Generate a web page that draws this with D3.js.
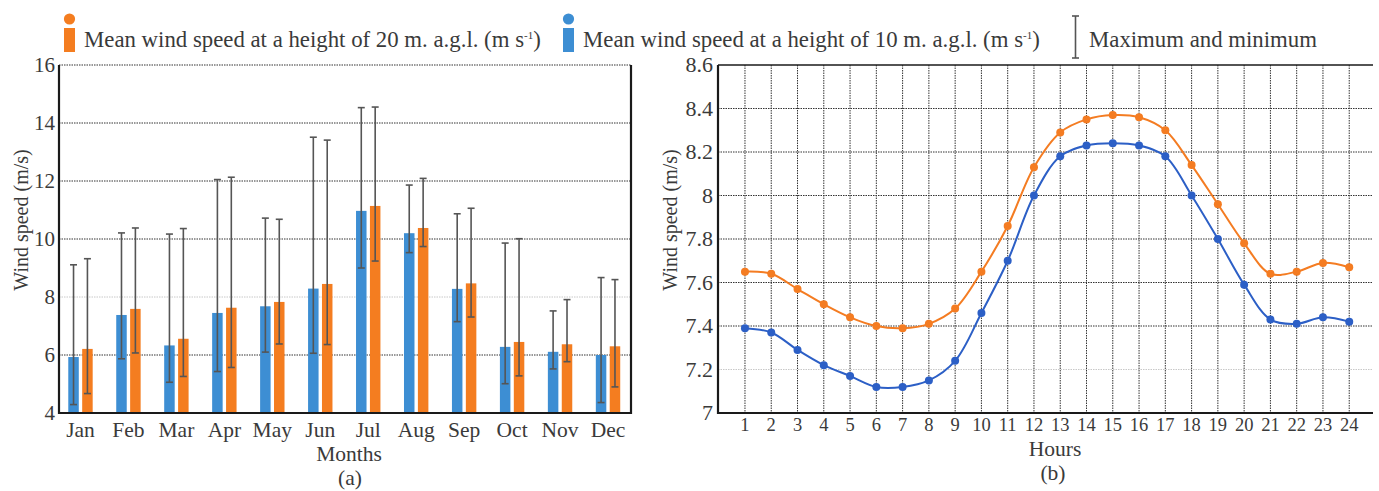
<!DOCTYPE html>
<html>
<head>
<meta charset="utf-8">
<script src="https://cdn.jsdelivr.net/npm/d3@7"></script>
<style>
  html, body { margin: 0; padding: 0; background: #fff; }
  svg { display: block; }
  svg text { font-family: "Liberation Serif", "DejaVu Serif", serif; fill: #3a3a3a; }
</style>
</head>
<body>
<svg id="chart" width="1379" height="491"></svg>
<script>
// Monthly mean wind speed (m/s) with monthly max/min, at 10 m and 20 m
const months = ["Jan", "Feb", "Mar", "Apr", "May", "Jun", "Jul", "Aug", "Sep", "Oct", "Nov", "Dec"];
const mean10 = [5.93, 7.38, 6.33, 7.45, 7.68, 8.29, 10.97, 10.20, 8.28, 6.28, 6.11, 6.00];
const mean20 = [6.21, 7.59, 6.56, 7.63, 7.83, 8.45, 11.14, 10.38, 8.47, 6.45, 6.37, 6.30];
const max10 = [9.11, 10.21, 10.17, 12.05, 10.72, 13.51, 14.53, 11.86, 10.87, 9.86, 7.52, 8.67];
const min10 = [4.29, 5.87, 5.06, 5.43, 6.10, 6.06, 9.00, 9.53, 7.15, 5.01, 5.52, 4.36];
const max20 = [9.32, 10.38, 10.36, 12.13, 10.68, 13.41, 14.55, 12.09, 11.06, 10.01, 7.91, 8.60];
const min20 = [4.67, 6.07, 5.26, 5.57, 6.38, 6.36, 9.24, 9.74, 7.31, 5.28, 5.77, 4.90];
const monthTicks = [4, 6, 8, 10, 12, 14, 16];

// Mean hourly wind speed (m/s)
const hours = d3.range(1, 25);
const hourly20 = [7.65, 7.64, 7.57, 7.50, 7.44, 7.40, 7.39, 7.41, 7.48, 7.65, 7.86, 8.13,
                  8.29, 8.35, 8.37, 8.36, 8.30, 8.14, 7.96, 7.78, 7.64, 7.65, 7.69, 7.67];
const hourly10 = [7.39, 7.37, 7.29, 7.22, 7.17, 7.12, 7.12, 7.15, 7.24, 7.46, 7.70, 8.00,
                  8.18, 8.23, 8.24, 8.23, 8.18, 8.00, 7.80, 7.59, 7.43, 7.41, 7.44, 7.42];
const hourTicks = [7, 7.2, 7.4, 7.6, 7.8, 8, 8.2, 8.4, 8.6];

const seriesNames = ["10 m", "20 m"];
const legendLabels = ["Mean wind speed at a height of 20 m. a.g.l. (m s", "Mean wind speed at a height of 10 m. a.g.l. (m s"];

const SERIF = '"Liberation Serif", "DejaVu Serif", serif';
const C_BAR10 = "#3d8ed3", C_BAR20 = "#f47d20";
const C_LINE10 = "#2c5fc6", C_LINE20 = "#f47c22";
const C_ERR = "#555", C_AXIS = "#1a1a1a", C_GRID = "#333", C_GRID_LIGHT = "#c8c8c8";

const svg = d3.select("#chart").attr("font-family", SERIF);

function label(g, x, y, size, txt, anchor) {
  return g.append("text").attr("x", x).attr("y", y)
    .attr("text-anchor", anchor || "start")
    .style("font-family", SERIF).style("font-size", size + "px").text(txt);
}

// ---------- Legend ----------
const legend = svg.append("g");
function legendMarker(x, color, txt) {
  legend.append("rect").attr("x", x).attr("y", 28).attr("width", 11).attr("height", 24).attr("fill", color);
  legend.append("circle").attr("cx", x + 5.5).attr("cy", 19).attr("r", 5.6).attr("fill", color);
  const t = label(legend, x + 20, 47, 22.8, txt);
  t.append("tspan").attr("dy", -8).style("font-size", "11px").text("-1");
  t.append("tspan").attr("dy", 8).text(")");
}
legendMarker(64, C_BAR20, legendLabels[0]);
legendMarker(563, C_BAR10, legendLabels[1]);
legend.append("line").attr("x1", 1075.5).attr("x2", 1075.5).attr("y1", 16).attr("y2", 58).attr("stroke", C_ERR).attr("stroke-width", 1.6);
legend.append("line").attr("x1", 1072).attr("x2", 1079).attr("y1", 16).attr("y2", 16).attr("stroke", C_ERR).attr("stroke-width", 1.6);
legend.append("line").attr("x1", 1072).attr("x2", 1079).attr("y1", 58).attr("y2", 58).attr("stroke", C_ERR).attr("stroke-width", 1.6);
label(legend, 1089, 47, 22.8, "Maximum and minimum");

// ---------- (a) Monthly bar chart ----------
const A = { left: 59, right: 631, top: 65, bottom: 413 };
const ya = d3.scaleLinear().domain([4, 16]).range([A.bottom, A.top]);
const xa = d3.scaleBand().domain(months).range([56.5, 632]);
const xs = d3.scaleBand().domain(seriesNames).range([-12.2, 12.2]).paddingInner(0.245);

const ga = svg.append("g");
// horizontal grid
ga.selectAll(".grid").data(monthTicks.filter(v => v > 4)).join("line")
  .attr("x1", A.left).attr("x2", A.right)
  .attr("y1", d => ya(d)).attr("y2", d => ya(d))
  .attr("stroke", d => d === 8 ? C_GRID_LIGHT : C_GRID)
  .attr("stroke-width", 1).attr("stroke-dasharray", "1.5,1");

// y tick labels
monthTicks.forEach(v => {
  label(ga, 55, ya(v) + 7, 21, v, "end");
});

const barData = months.map((m, i) => [
  { m, s: "10 m", v: mean10[i], hi: max10[i], lo: min10[i], c: C_BAR10 },
  { m, s: "20 m", v: mean20[i], hi: max20[i], lo: min20[i], c: C_BAR20 }
]).flat();

ga.selectAll(".bar").data(barData).join("rect")
  .attr("x", d => xa(d.m) + xa.bandwidth() / 2 + xs(d.s))
  .attr("width", xs.bandwidth())
  .attr("y", d => ya(d.v))
  .attr("height", d => ya(4) - ya(d.v))
  .attr("fill", d => d.c);

// error bars
const errG = ga.selectAll(".err").data(barData).join("g")
  .attr("transform", d => `translate(${xa(d.m) + xa.bandwidth() / 2 + xs(d.s) + xs.bandwidth() / 2},0)`);
errG.append("line").attr("y1", d => ya(d.hi)).attr("y2", d => ya(d.lo))
  .attr("stroke", C_ERR).attr("stroke-width", 1.6);
errG.append("line").attr("x1", -3.5).attr("x2", 3.5).attr("y1", d => ya(d.hi)).attr("y2", d => ya(d.hi))
  .attr("stroke", C_ERR).attr("stroke-width", 1.6);
errG.append("line").attr("x1", -3.5).attr("x2", 3.5).attr("y1", d => ya(d.lo)).attr("y2", d => ya(d.lo))
  .attr("stroke", C_ERR).attr("stroke-width", 1.6);

// frame: left, bottom, right solid
ga.append("path")
  .attr("d", `M${A.left},${A.top}V${A.bottom}H${A.right}V${A.top}`)
  .attr("fill", "none").attr("stroke", C_AXIS).attr("stroke-width", 2.2);

// x labels
months.forEach(m => label(ga, xa(m) + xa.bandwidth() / 2, 437, 21.5, m, "middle"));

label(ga, 349, 461, 21.5, "Months", "middle");
label(ga, 350, 485, 21.5, "(a)", "middle");
label(ga, 0, 0, 20, "Wind speed (m/s)", "middle").attr("transform", "translate(28,220) rotate(-90)");

// ---------- (b) Hourly line chart ----------
const B = { left: 718, right: 1373, top: 65, bottom: 413 };
const yb = d3.scaleLinear().domain([7, 8.6]).range([B.bottom, B.top]);
const xb = d3.scaleLinear().domain([0, 25]).range([718.7, 1375.5]);

const gb = svg.append("g");
gb.selectAll(".hg").data(hourTicks.filter(v => v > 7 && v < 8.6)).join("line")
  .attr("x1", B.left).attr("x2", B.right)
  .attr("y1", d => yb(d)).attr("y2", d => yb(d))
  .attr("stroke", d => Math.abs(d - 7.2) < 1e-9 ? C_GRID_LIGHT : C_GRID)
  .attr("stroke-width", 1).attr("stroke-dasharray", "1.5,1");
gb.selectAll(".vg").data(hours).join("line")
  .attr("x1", d => xb(d)).attr("x2", d => xb(d))
  .attr("y1", B.top).attr("y2", B.bottom)
  .attr("stroke", C_GRID).attr("stroke-width", 1).attr("stroke-dasharray", "1.5,1");

hourTicks.forEach(v => label(gb, 713, yb(v) + 7, 22, v, "end"));
hours.forEach(h => label(gb, xb(h), 431, 18.5, h, "middle"));

gb.append("path")
  .attr("d", `M${B.left},${B.top}V${B.bottom}H${B.right}`)
  .attr("fill", "none").attr("stroke", C_AXIS).attr("stroke-width", 2.2);
gb.append("line").attr("x1", B.left).attr("x2", B.right).attr("y1", B.top).attr("y2", B.top)
  .attr("stroke", C_AXIS).attr("stroke-width", 1.6);

const line = d3.line().x((d, i) => xb(hours[i])).y(d => yb(d)).curve(d3.curveCatmullRom.alpha(0.5));
[[hourly20, C_LINE20], [hourly10, C_LINE10]].forEach(([vals, col]) => {
  gb.append("path").attr("d", line(vals)).attr("fill", "none").attr("stroke", col).attr("stroke-width", 2);
  gb.selectAll(null).data(vals).join("circle")
    .attr("cx", (d, i) => xb(hours[i])).attr("cy", d => yb(d)).attr("r", 4)
    .attr("fill", col);
});

label(gb, 1055, 456, 21.5, "Hours", "middle");
label(gb, 1053, 480, 21.5, "(b)", "middle");
label(gb, 0, 0, 20, "Wind speed (m/s)", "middle").attr("transform", "translate(677,220) rotate(-90)");
</script>
</body>
</html>
